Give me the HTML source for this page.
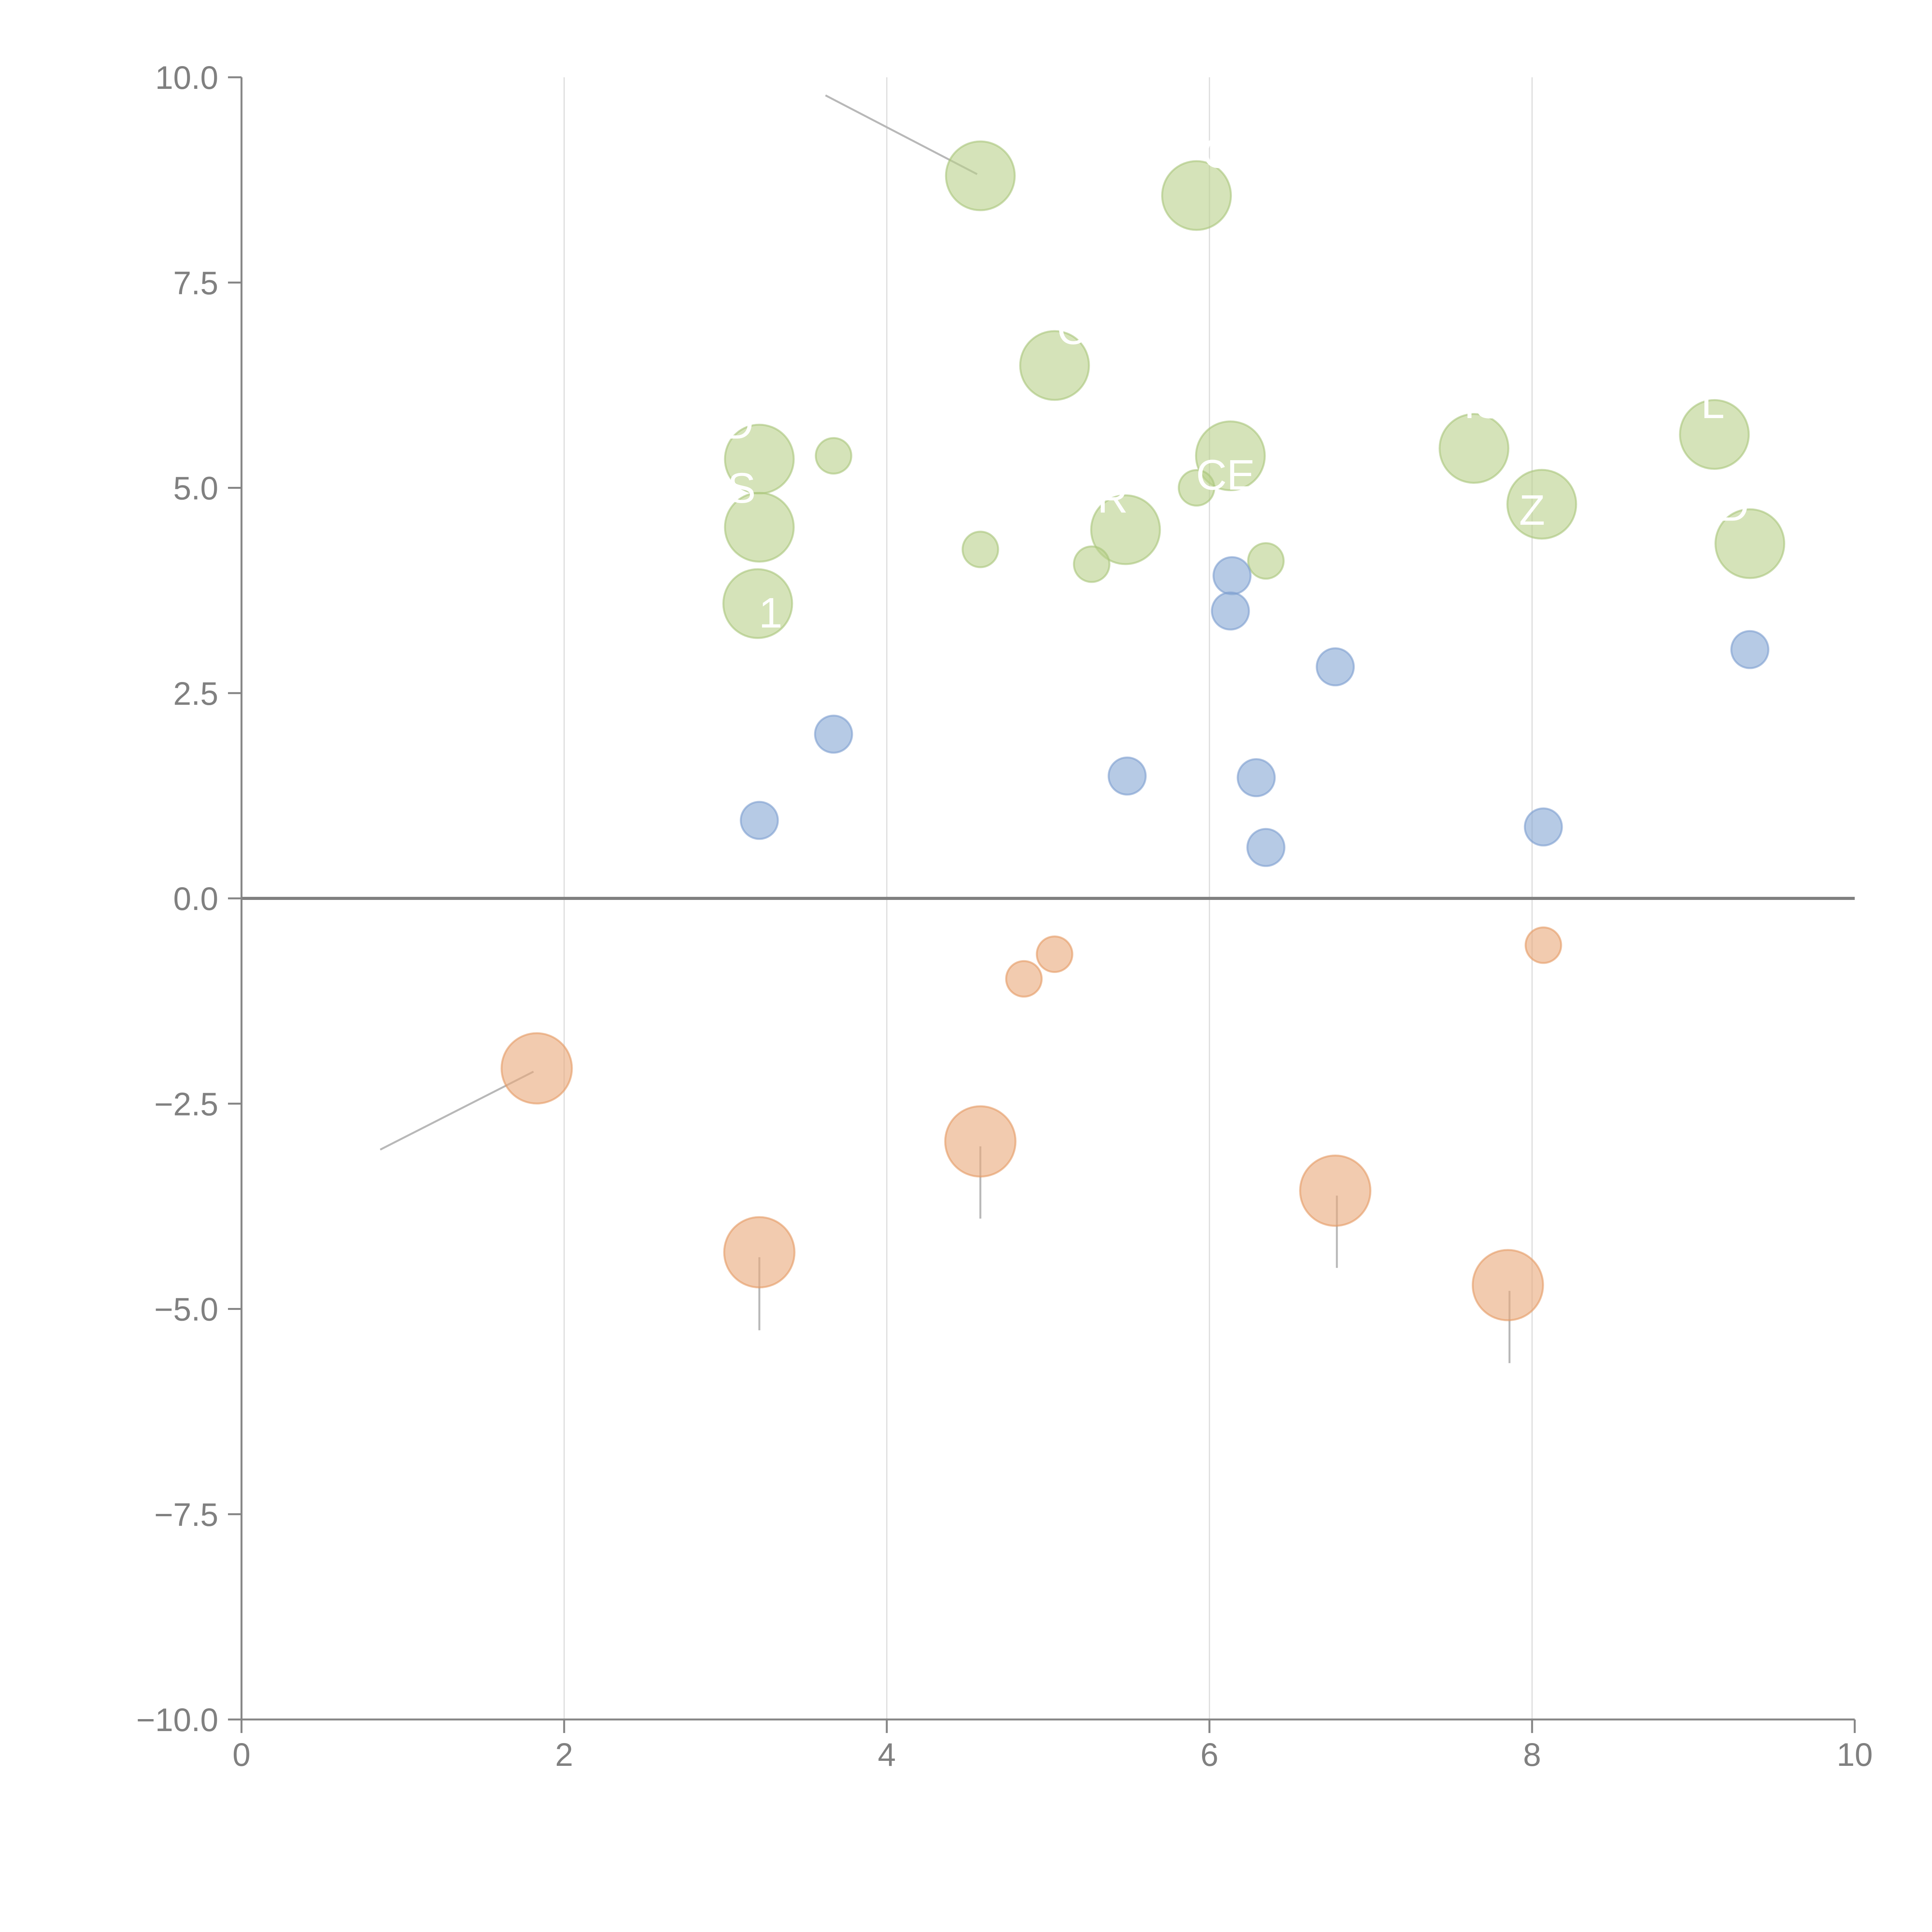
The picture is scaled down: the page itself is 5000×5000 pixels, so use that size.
<!DOCTYPE html>
<html><head><meta charset="utf-8"><style>html,body{margin:0;padding:0;background:#fff}svg{display:block}</style></head>
<body>
<svg id="chart" width="5000" height="5000" viewBox="0 0 5000 5000" xmlns="http://www.w3.org/2000/svg" font-family="Liberation Sans, Arial, sans-serif">
<g id="grid"></g>
<g id="marks"></g>
<g id="axes"></g>
</svg>
<script>
const xTicks = [0, 2, 4, 6, 8, 10];
const yTicks = [10, 7.5, 5, 2.5, 0, -2.5, -5, -7.5, -10];
const yTickLabels = ["10.0", "7.5", "5.0", "2.5", "0.0", "\u22122.5", "\u22125.0", "\u22127.5", "\u221210.0"];
const greenBigX = [4.58, 5.92, 5.04, 3.21, 6.13, 7.64, 9.13, 3.21, 5.48, 8.06, 9.35, 3.20];
const greenBigY = [8.80, 8.56, 6.49, 5.35, 5.39, 5.48, 5.65, 4.52, 4.49, 4.80, 4.32, 3.59];
const greenSmallX = [3.67, 5.92, 4.58, 5.27, 6.35];
const greenSmallY = [5.39, 5.00, 4.25, 4.07, 4.11];
const blueX = [6.14, 6.13, 6.78, 9.35, 3.67, 5.49, 6.29, 3.21, 8.07, 6.35];
const blueY = [3.93, 3.50, 2.82, 3.03, 2.00, 1.49, 1.47, 0.95, 0.87, 0.62];
const orangeSmallX = [5.04, 4.85, 8.07];
const orangeSmallY = [-0.68, -0.98, -0.57];
const orangeBigX = [1.83, 4.58, 6.78, 3.21, 7.85];
const orangeBigY = [-2.07, -2.96, -3.56, -4.31, -4.71];
const labelText = ["C", "C", "D", "S", "CE", "R", "Z", "D", "L", "1", "IS"];
const labelX = [6.05, 5.15, 3.08, 3.10, 6.10, 5.40, 8.00, 9.25, 9.12, 3.28, 7.70];
const labelY = [8.90, 6.75, 5.60, 4.82, 4.98, 4.70, 4.55, 4.60, 5.85, 3.30, 5.85];

const NS = "http://www.w3.org/2000/svg";
const X0 = 625, X1 = 4800, Y0 = 200, Y1 = 4450;
const sx = v => X0 + (v - 0) / 10 * (X1 - X0);
const sy = v => Y0 + (10 - v) / 20 * (Y1 - Y0);
function mk(tag, attrs, parent) {
  const e = document.createElementNS(NS, tag);
  for (const k in attrs) e.setAttribute(k, attrs[k]);
  parent.appendChild(e);
  return e;
}
const grid = document.getElementById('grid'), marks = document.getElementById('marks'), axes = document.getElementById('axes');

xTicks.forEach(t => {
  if (t === 0 || t === 10) return;
  const l = mk('line', {x1: sx(t), x2: sx(t), y1: Y0, y2: Y1, stroke: '#dcdcdc', 'stroke-width': 3}, grid);
  
  
});

const leaders = [[3.62, 9.78, 4.56, 8.82], [0.86, -3.06, 1.81, -2.11], [4.58, -3.02, 4.58, -3.90], [6.79, -3.62, 6.79, -4.50], [3.21, -4.37, 3.21, -5.26], [7.86, -4.78, 7.86, -5.66]];
leaders.forEach(d => {
  const l = mk('line', {x1: sx(d[0]), y1: sy(d[1]), x2: sx(d[2]), y2: sy(d[3]), stroke: '#b8b8b8', 'stroke-width': 5}, marks);
  
  
});

function bubbles(xs, ys, r, fill, stroke, name) {
  xs.forEach((x, i) => {
    const c = mk('circle', {cx: sx(x), cy: sy(ys[i]), r: r, fill: fill, stroke: stroke, 'stroke-width': 5, 'fill-opacity': 0.6, 'stroke-opacity': 0.6}, marks);
    
    
  });
}
bubbles(greenBigX, greenBigY, 89, '#b9d08a', '#a8c57a', 'green-bubble-large');
bubbles(greenSmallX, greenSmallY, 46, '#b9d08a', '#a8c57a', 'green-bubble-small');
bubbles(blueX, blueY, 48, '#86a6d4', '#7b9ccf', 'blue-bubble');
bubbles(orangeSmallX, orangeSmallY, 46, '#e9a97a', '#e59a62', 'orange-bubble-small');
bubbles(orangeBigX, orangeBigY, 91, '#e9a97a', '#e59a62', 'orange-bubble-large');

labelText.forEach((t, i) => {
  const tx = mk('text', {x: sx(labelX[i]), y: sy(labelY[i]), fill: '#ffffff', 'font-size': 110, 'text-anchor': 'middle'}, marks);
  tx.textContent = t;
  
  
});

const z = mk('line', {x1: X0, x2: X1, y1: sy(0), y2: sy(0), stroke: '#808080', 'stroke-width': 8}, axes);


const ya = mk('line', {x1: X0, x2: X0, y1: Y0, y2: Y1, stroke: '#858585', 'stroke-width': 5}, axes);


const xa = mk('line', {x1: X0, x2: X1, y1: Y1, y2: Y1, stroke: '#858585', 'stroke-width': 5}, axes);



yTicks.forEach((t, i) => {
  const l = mk('line', {x1: X0 - 35, x2: X0, y1: sy(t), y2: sy(t), stroke: '#858585', 'stroke-width': 5}, axes);
  
  
  const tx = mk('text', {x: X0 - 60, y: sy(t) + 30, fill: '#808080', 'font-size': 84, 'text-anchor': 'end'}, axes);
  tx.textContent = yTickLabels[i];
  
  
});
xTicks.forEach(t => {
  const l = mk('line', {x1: sx(t), x2: sx(t), y1: Y1, y2: Y1 + 35, stroke: '#858585', 'stroke-width': 5}, axes);
  
  
  const tx = mk('text', {x: sx(t), y: Y1 + 120, fill: '#808080', 'font-size': 84, 'text-anchor': 'middle'}, axes);
  tx.textContent = String(t);
  
  
});
</script>
</body></html>
